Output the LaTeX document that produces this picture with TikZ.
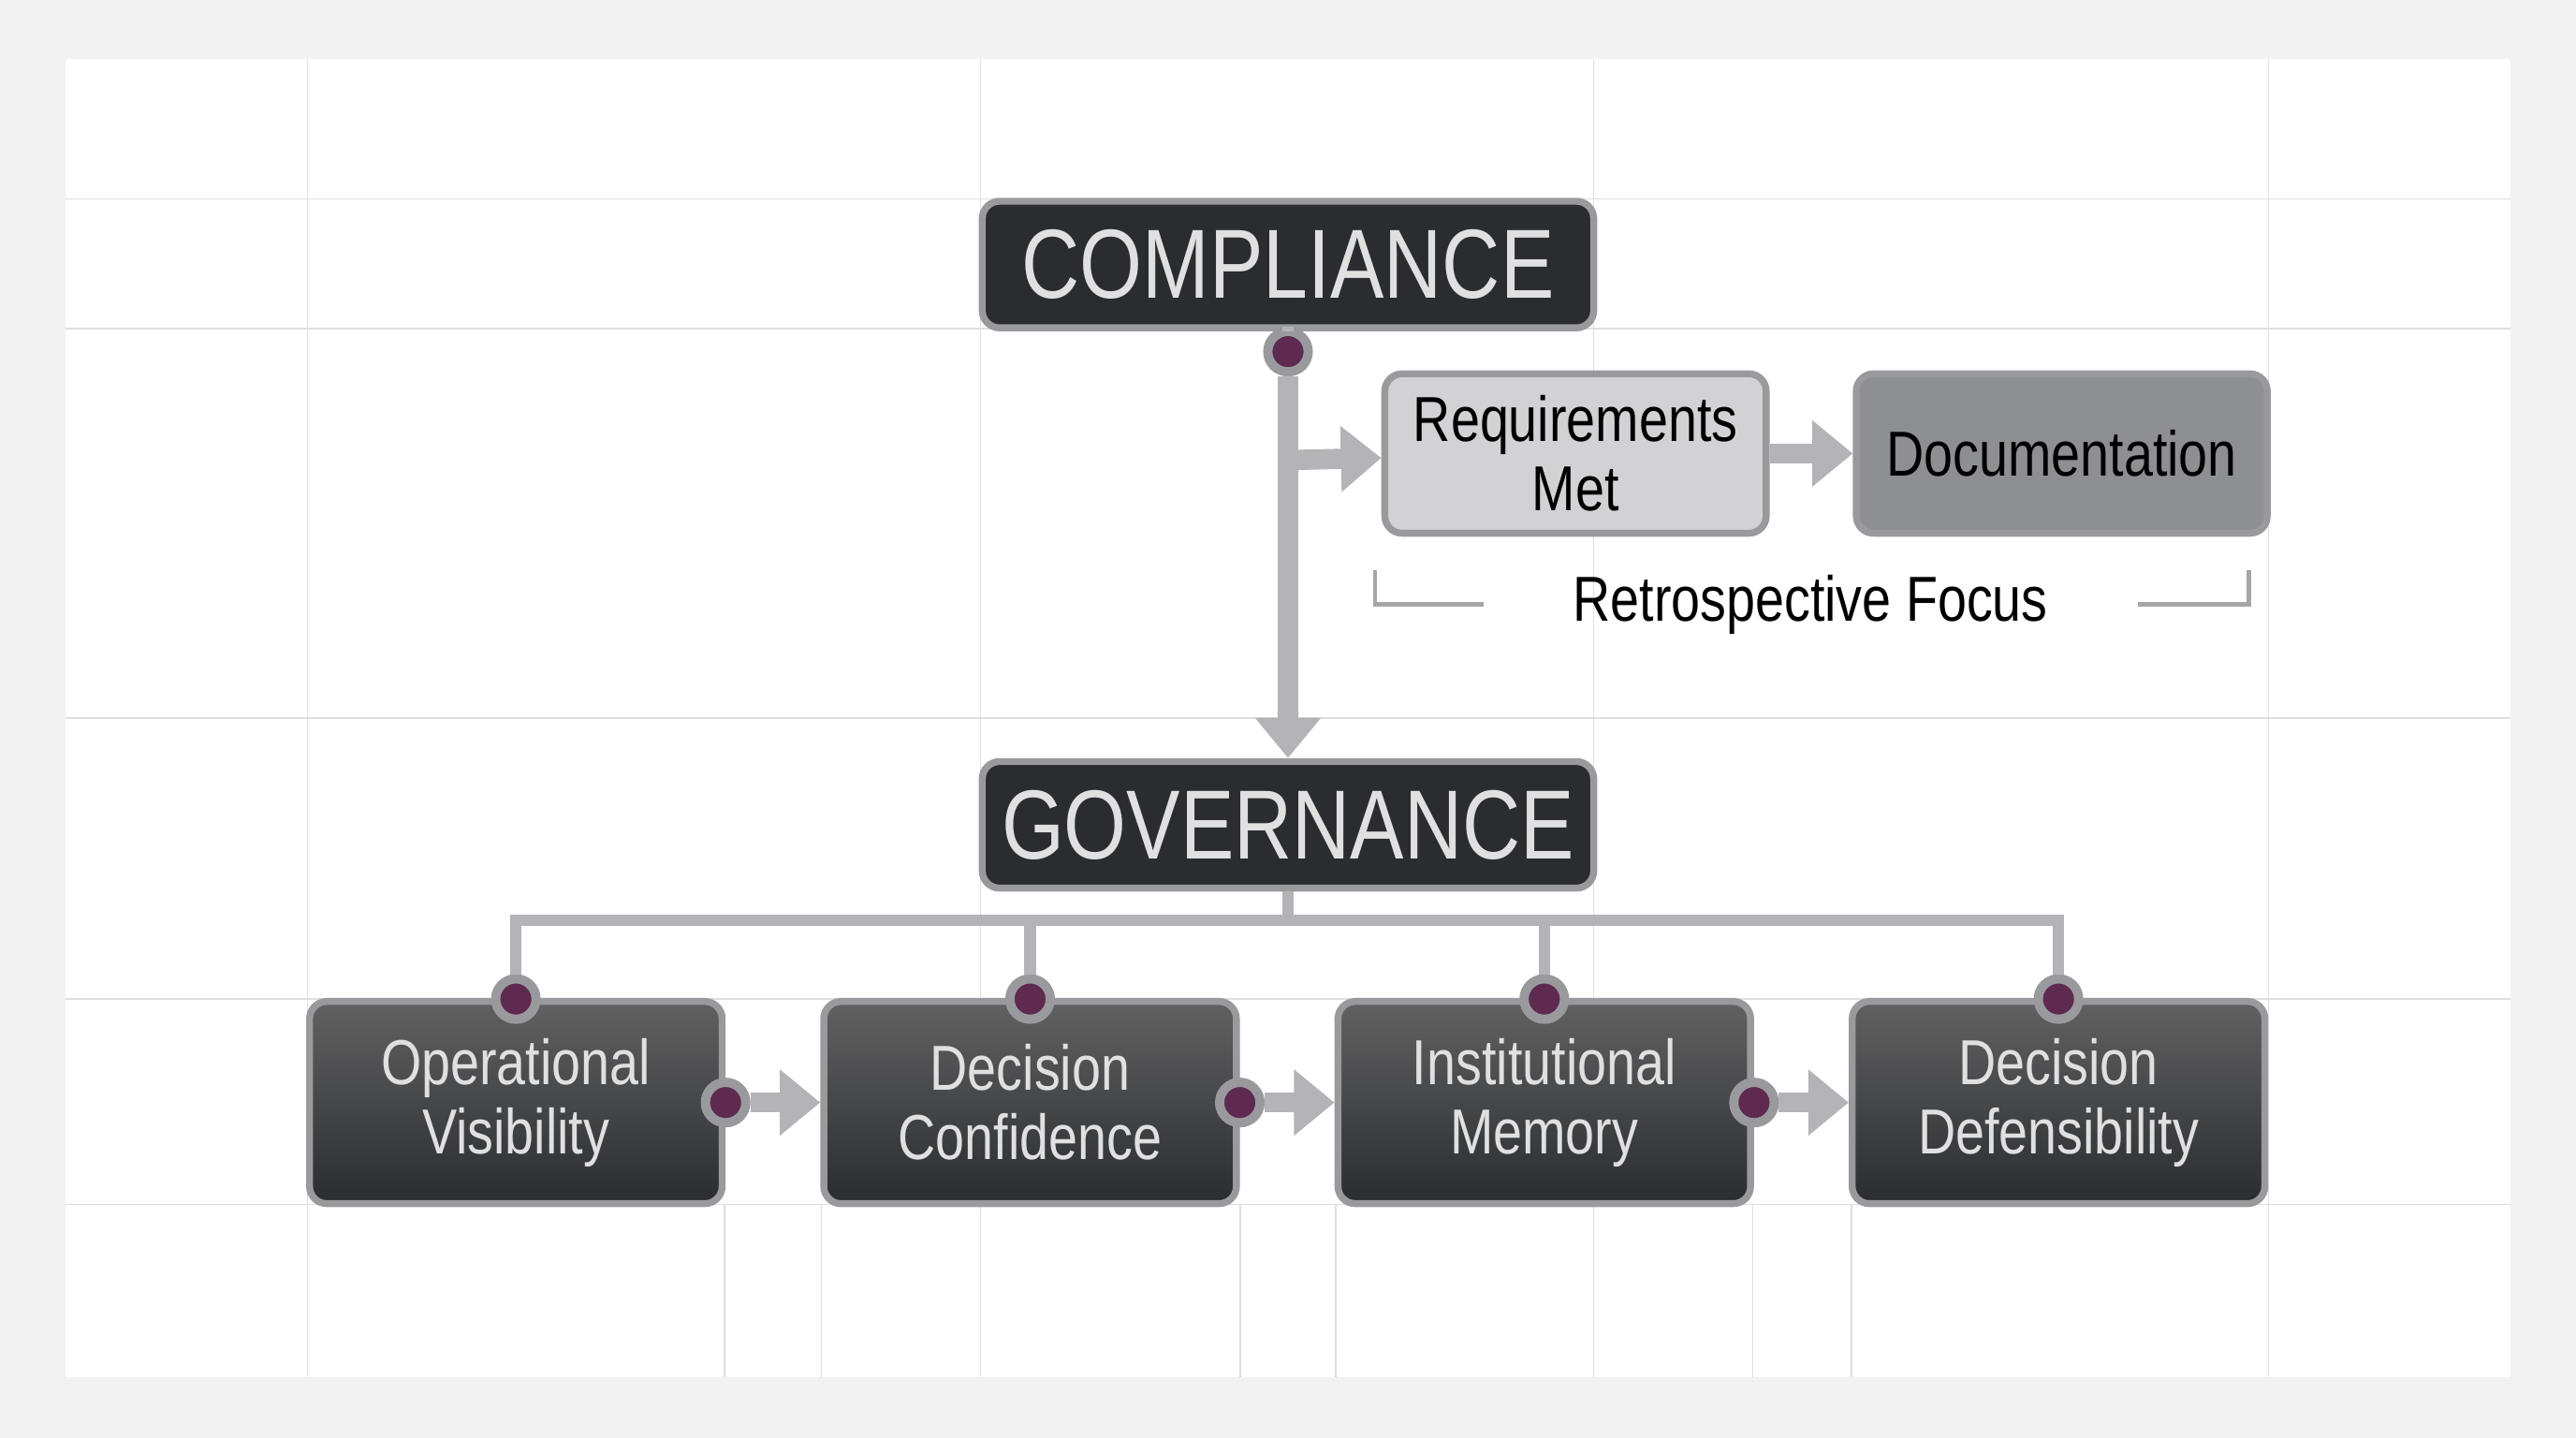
\documentclass[tikz,border=0pt]{standalone}
\usepackage{fontspec}
\setmainfont{Liberation Sans}[FakeStretch=0.82]
\usetikzlibrary{arrows.meta}
\definecolor{cdark}{HTML}{2A2C30}
\definecolor{cedge}{HTML}{9A9A9E}
\definecolor{clight}{HTML}{D2D2D4}
\definecolor{cmid}{HTML}{8E8F93}
\definecolor{cwire}{HTML}{B4B4B8}
\definecolor{cdot}{HTML}{5E2A50}
\begin{document}
\begin{tikzpicture}[x=0.01cm,y=-0.01cm,
	box/.style={draw=cedge, line width=1.2pt, rounded corners=3pt, inner sep=0pt, align=center},
	dbox/.style={box, fill=cdark, text=white!88!black},
	wire/.style={cwire, line width=2pt},
	arr/.style={cwire, line width=3.5pt, -{Triangle[length=7pt,width=11pt]}},
	pin/.style={circle, fill=cdot, draw=cedge, line width=1.6pt, minimum size=7pt, inner sep=0pt}]
	
	\def \grid{gray!25}
	
	% card
	\fill[black!5] (0,0) rectangle (1568,875);
	\fill[white] (40,36) rectangle (1528,838);
	\foreach \gx in {187,597,970,1381}{
		\draw[\grid, very thin] (\gx,36) -- (\gx,838);
	}
	\foreach \gy in {121,200,437,608,733}{
		\draw[\grid, very thin] (40,\gy) -- (1528,\gy);
	}
	\foreach \gx in {441,500,755,813,1067,1127}{
		\draw[\grid, very thin] (\gx,733) -- (\gx,838);
	}
	
	% top
	\node[dbox, minimum width=3.72cm, minimum height=0.77cm, font=\fontsize{17}{17}\selectfont] (comp) at (784,161) {COMPLIANCE};
	\node[box, fill=clight, minimum width=2.32cm, minimum height=0.97cm, font=\fontsize{11}{12}\selectfont] (req) at (959,276) {Requirements\\Met};
	\node[box, fill=cmid, minimum width=2.5cm, minimum height=0.97cm, font=\fontsize{11}{12}\selectfont] (doc) at (1255,276) {Documentation};
	\node[dbox, minimum width=3.72cm, minimum height=0.77cm, font=\fontsize{17}{17}\selectfont] (gov) at (784,502) {GOVERNANCE};
	
	\node[pin] (p0) at (784,214) {};
	\coordinate (b0) at (784,280);
	\draw[wire] (comp) -- (p0);
	\draw[arr] (p0) -- (gov);
	\draw[arr] (b0) -- (req);
	\draw[arr] (req) -- (doc);
	
	% bracket
	\node[font=\fontsize{11}{12}\selectfont] (retro) at (1102,368) {Retrospective Focus};
	\coordinate (kl) at (837,347);
	\coordinate (kr) at (1369,347);
	\draw[gray!70, line width=0.8pt] (kl) |- ([xshift=-12pt]retro.west);
	\draw[gray!70, line width=0.8pt] (kr) |- ([xshift=12pt]retro.east);
	
	% bottom row
	\foreach \n/\cx/\txt in {b1/314/{Operational\\Visibility}, b2/627/{Decision\\Confidence}, b3/940/{Institutional\\Memory}, b4/1253/{Decision\\Defensibility}}{
		\node[dbox, minimum width=2.51cm, minimum height=1.23cm, font=\fontsize{11}{12}\selectfont,
			top color=black!62, bottom color=cdark] (\n) at (\cx,671) {\txt};
		\node[pin] (t\n) at (\cx,608) {};
		\draw[wire] (t\n) -- (\cx,560) -- (784,560);
	}
	\draw[wire] (gov) -- (784,560);
	\foreach \a/\b in {b1/b2, b2/b3, b3/b4}{
		\node[pin] (s\a) at (\a.east) {};
		\draw[arr] (s\a) -- (\b);
	}
\end{tikzpicture}
\end{document}
